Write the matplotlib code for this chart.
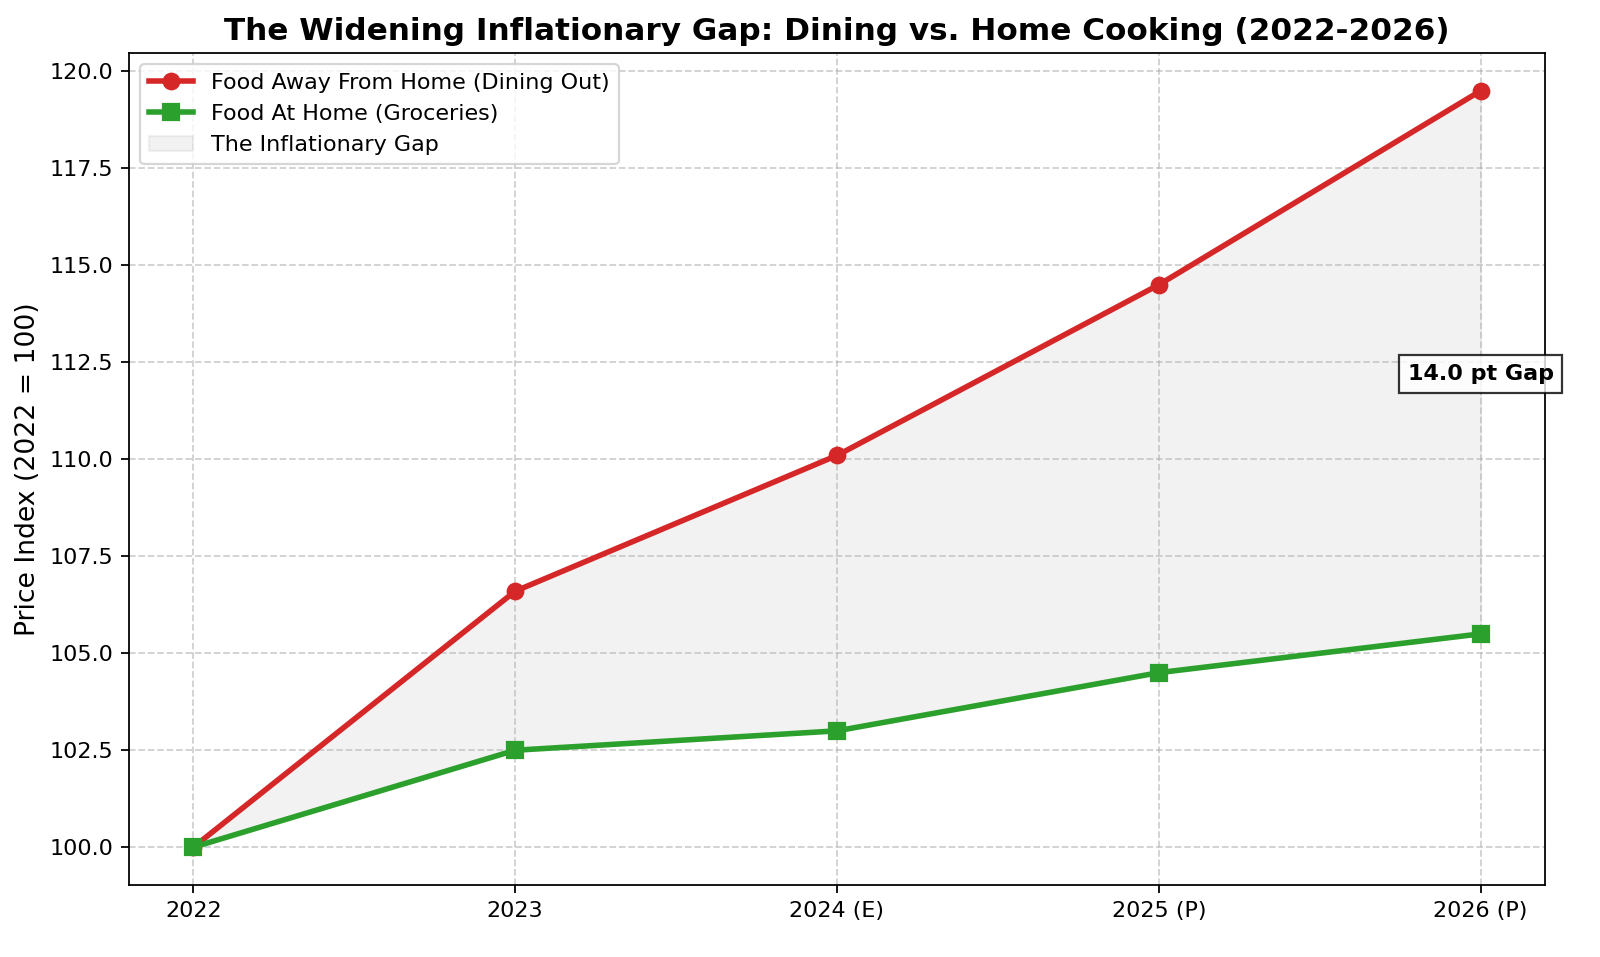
import matplotlib.pyplot as plt
import numpy as np

years = ['2022', '2023', '2024 (E)', '2025 (P)', '2026 (P)']
dining_out = [100.0, 106.6, 110.1, 114.5, 119.5]
groceries = [100.0, 102.5, 103.0, 104.5, 105.5]

x = np.arange(len(years))

fig, ax = plt.subplots(figsize=(10, 5.98125), dpi=160)
fig.subplots_adjust(left=0.0806, right=0.9656, top=0.9446, bottom=0.0752)

ax.plot(x, dining_out, color='#d62728', marker='o', linewidth=2.5, markersize=7,
        label='Food Away From Home (Dining Out)')
ax.plot(x, groceries, color='#2ca02c', marker='s', linewidth=2.5, markersize=7,
        label='Food At Home (Groceries)')
ax.fill_between(x, dining_out, groceries, color='gray', alpha=0.1, label='The Inflationary Gap')

gap = dining_out[-1] - groceries[-1]
mid = (dining_out[-1] + groceries[-1]) / 2
ax.text(x[-1], mid - 0.05, f'{gap:.1f} pt Gap', ha='center', va='top', fontsize=10,
        fontweight='bold',
        bbox=dict(facecolor='white', edgecolor='black', alpha=0.8, boxstyle='square,pad=0.4'),
        clip_on=False)

ax.set_xticks(x)
ax.set_xticklabels(years)
ax.set_ylabel('Price Index (2022 = 100)', fontsize=12)
ax.set_title('The Widening Inflationary Gap: Dining vs. Home Cooking (2022-2026)',
             fontsize=14, fontweight='bold')
ax.grid(True, linestyle='--', alpha=0.6)
ax.legend(loc='upper left', fontsize=10)

plt.savefig('out.png', dpi=160)
